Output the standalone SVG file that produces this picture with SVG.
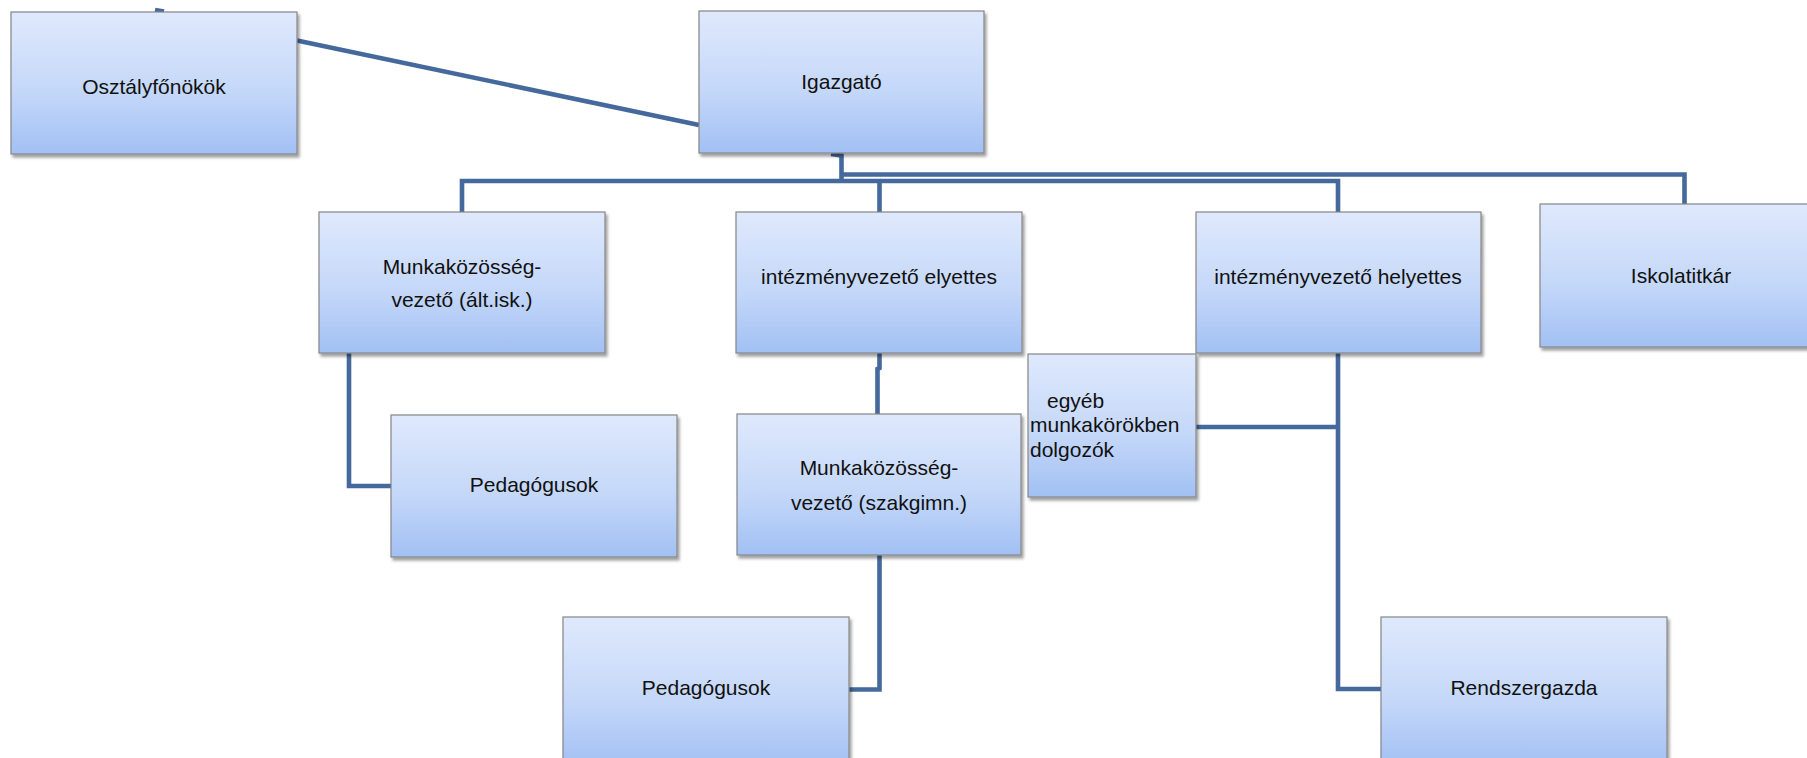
<svg xmlns="http://www.w3.org/2000/svg" width="1807" height="758" viewBox="0 0 1807 758">
<defs>
<linearGradient id="bg" x1="0" y1="0" x2="0" y2="1">
<stop offset="0" stop-color="#dfe9fc"/>
<stop offset="0.55" stop-color="#c5d8f9"/>
<stop offset="1" stop-color="#a2c0f4"/>
</linearGradient>
<filter id="sh" x="-10%" y="-10%" width="125%" height="130%">
<feDropShadow dx="2" dy="3" stdDeviation="1.6" flood-color="#000" flood-opacity="0.38"/>
</filter>
</defs>
<style>
.box{fill:url(#bg);stroke:#858585;stroke-width:1.2;filter:url(#sh)}
.t{font-family:"Liberation Sans",Arial,sans-serif;font-size:21px;fill:#111;text-anchor:middle}
.l{text-anchor:start}
.c{fill:none;stroke:#45699c;stroke-width:4.6;stroke-linejoin:miter}
</style>
<rect width="1807" height="758" fill="#fff"/>
<g id="connectors">
<line class="c" x1="297" y1="40.5" x2="699" y2="125"/>
<line class="c" x1="155" y1="10" x2="164" y2="11.5" stroke-width="3"/>
<polyline class="c" points="831,154 841.5,155.5 841.5,183"/>
<polyline class="c" points="841.5,174.5 1684.5,174.5 1684.5,204"/>
<polyline class="c" points="462,212 462,181 1338,181 1338,212"/>
<line class="c" x1="879.5" y1="181" x2="879.5" y2="212"/>
<polyline class="c" points="349,353 349,486 391,486"/>
<polyline class="c" points="879.5,353 879.5,368 877.5,369 877.5,414"/>
<polyline class="c" points="879.5,555 879.5,689.5 849,689.5"/>
<polyline class="c" points="1338,353 1338,689 1381,689"/>
<line class="c" x1="1196" y1="427" x2="1338" y2="427"/>
</g>
<g id="osztalyfonokok">
<rect class="box" x="11" y="12" width="286" height="142"/>
<text class="t" x="154" y="94">Osztályfőnökök</text>
</g>
<g id="igazgato">
<rect class="box" x="699" y="11" width="285" height="142"/>
<text class="t" x="841.5" y="89">Igazgató</text>
</g>
<g id="mkv-alt">
<rect class="box" x="319" y="212" width="286" height="141"/>
<text class="t" x="462" y="274">Munkaközösség-</text>
<text class="t" x="462" y="307">vezető (ált.isk.)</text>
</g>
<g id="iv-elyettes">
<rect class="box" x="736" y="212" width="286" height="141"/>
<text class="t" x="879" y="284">intézményvezető elyettes</text>
</g>
<g id="iv-helyettes">
<rect class="box" x="1196" y="212" width="285" height="141"/>
<text class="t" x="1338" y="284">intézményvezető helyettes</text>
</g>
<g id="iskolatitkar">
<rect class="box" x="1540" y="204" width="283" height="143"/>
<text class="t" x="1681" y="283">Iskolatitkár</text>
</g>
<g id="egyeb">
<rect class="box" x="1028" y="354" width="168" height="143"/>
<text class="t l" x="1047" y="408">egyéb</text>
<text class="t l" x="1030" y="432">munkakörökben</text>
<text class="t l" x="1030" y="457">dolgozók</text>
</g>
<g id="pedagogusok-1">
<rect class="box" x="391" y="415" width="286" height="142"/>
<text class="t" x="534" y="492">Pedagógusok</text>
</g>
<g id="mkv-szakgimn">
<rect class="box" x="737" y="414" width="284" height="141"/>
<text class="t" x="879" y="475">Munkaközösség-</text>
<text class="t" x="879" y="510">vezető (szakgimn.)</text>
</g>
<g id="pedagogusok-2">
<rect class="box" x="563" y="617" width="286" height="150"/>
<text class="t" x="706" y="695">Pedagógusok</text>
</g>
<g id="rendszergazda">
<rect class="box" x="1381" y="617" width="286" height="150"/>
<text class="t" x="1524" y="695">Rendszergazda</text>
</g>
</svg>
